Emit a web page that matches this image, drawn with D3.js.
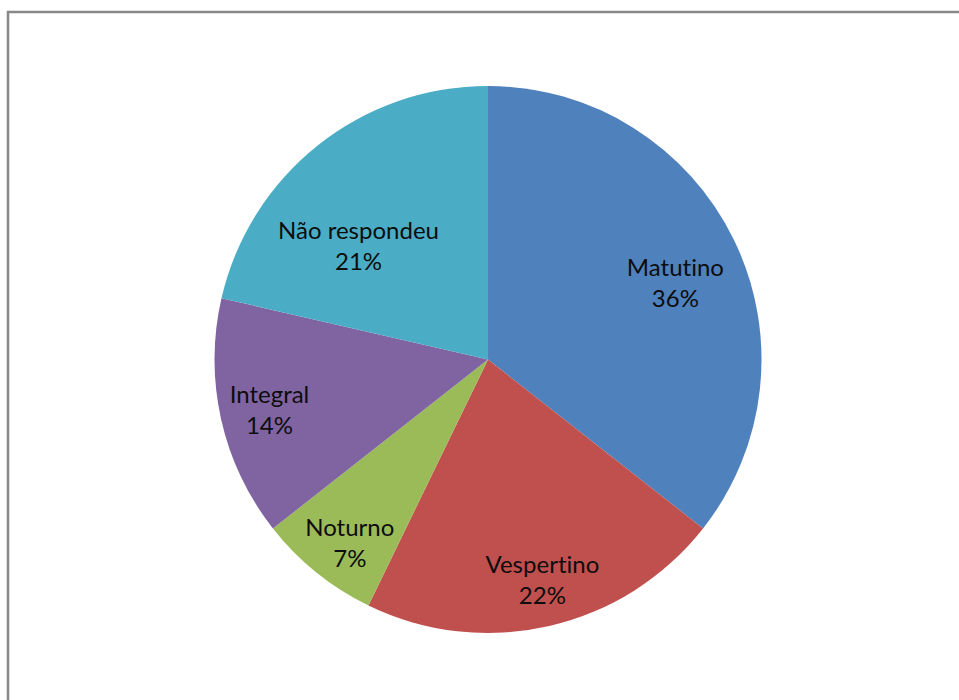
<!DOCTYPE html>
<html><head><meta charset="utf-8">
<script src="https://cdn.jsdelivr.net/npm/d3@7"></script>
<style>html,body{margin:0;padding:0;background:#fff;} text{font-variant-ligatures:none;font-feature-settings:"liga" 0, "clig" 0;}</style>
</head><body>
<svg id="c" width="959" height="700"></svg>
<script>
const categories = ["Matutino", "Vespertino", "Noturno", "Integral", "Não respondeu"];
const values = [35.6, 21.6, 7.2, 14.2, 21.4];
const percentLabels = ["36%", "22%", "7%", "14%", "21%"];
const colors = ["#4F81BD", "#C0504D", "#9BBB59", "#8064A2", "#4BACC6"];
const labelRadiusFactor = [0.74, 0.83, 0.84, 0.82, 0.63];
const labelAngleShift = [3.7, -0.9, -1.9, -0.4, -10.2];

const svg = d3.select("#c");
const W = 959, H = 700;
svg.append("rect").attr("x", 8).attr("y", 12).attr("width", W + 20).attr("height", H + 20)
  .attr("fill", "#fff").attr("stroke", "#888").attr("stroke-width", 2.5);

const cx = 488, cy = 359.5, R = 273.5;
const g = svg.append("g").attr("transform", `translate(${cx},${cy})`);
const pie = d3.pie().sort(null).value(d => d)(values);
const arc = d3.arc().innerRadius(0).outerRadius(R);
g.selectAll("path").data(pie).join("path")
  .attr("d", arc).attr("fill", (d, i) => colors[i]);

const lbl = g.selectAll("text").data(pie).join("text")
  .attr("text-anchor", "middle")
  .attr("font-family", "Lato, 'Open Sans', sans-serif")
  .attr("font-size", 24).attr("fill", "#0d0d0d")
  .attr("transform", (d, i) => {
    const a = (d.startAngle + d.endAngle) / 2 + labelAngleShift[i] * Math.PI / 180;
    const r = R * labelRadiusFactor[i];
    return `translate(${r * Math.sin(a)},${-r * Math.cos(a)})`;
  });
lbl.append("tspan").attr("x", 0).attr("y", -7).text((d, i) => categories[i]);
lbl.append("tspan").attr("x", 0).attr("y", 24).text((d, i) => percentLabels[i]);
</script>
</body></html>
